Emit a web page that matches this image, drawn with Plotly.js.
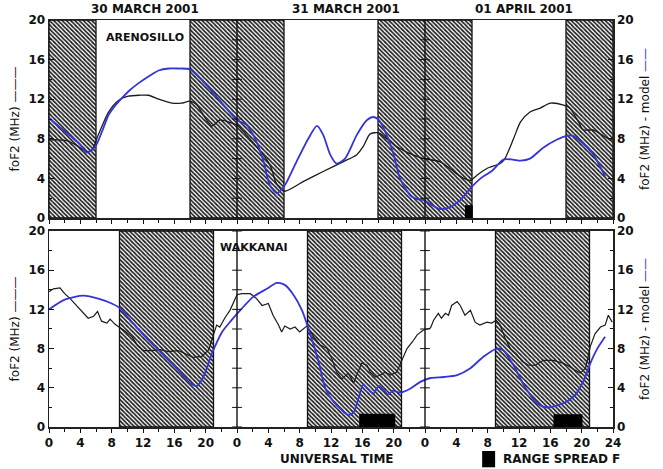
<!DOCTYPE html>
<html><head><meta charset="utf-8">
<script src="https://cdn.plot.ly/plotly-3.0.1.min.js"></script>
<style>html,body{margin:0;padding:0;background:#fff}#chart{width:663px;height:469px}</style>
</head><body><div id="chart"></div>
<script>
// ---- data (hours counted from 30 March 2001 00 UT) ----
const dayTitles = ['30 MARCH 2001', '31 MARCH 2001', '01 APRIL 2001'];
const xTickVals = [0,4,8,12,16,20,24,28,32,36,40,44,48,52,56,60,64,68,72];
const xTickText = ['0','4','8','12','16','20','0','4','8','12','16','20','0','4','8','12','16','20','24'];
const yTickVals = [0,4,8,12,16,20];

// Arenosillo observed foF2
const areObsHour = [0,1.2,2.4,3.8,4.8,5.5,6.3,7.6,8.9,10.1,11.5,12.7,14.0,15.7,16.9,18.0,18.9,19.7,20.8,21.8,22.9,24.0,25.2,26.5,27.8,28.4,28.9,29.5,30.1,32.5,35.0,37.6,39.3,40.1,41.0,42.1,43.1,44.4,46.1,47.8,49.9,51.2,52.5,53.8,54.6,55.9,57.6,58.2,59.3,60.2,61.4,62.7,64.0,65.7,66.5,67.6,68.2,69.5,70.6,71.6,72];
const areObsFoF2 = [7.9,7.9,7.8,7.2,6.7,6.9,8.4,10.7,11.9,12.3,12.4,12.4,12.0,11.6,11.6,11.8,11.4,10.4,9.3,9.9,9.7,9.4,8.4,7.2,5.9,5.0,3.7,3.0,2.7,3.7,4.7,5.7,6.4,7.2,8.5,8.6,8.0,7.2,6.5,6.0,5.7,5.0,4.2,3.8,4.3,5.0,5.5,6.0,8.0,9.7,10.7,11.1,11.6,11.4,11.1,9.7,8.9,8.9,8.4,7.9,7.9];
// Arenosillo model foF2
const areModHour = [0,2.4,4.0,4.8,5.9,6.8,7.6,8.5,9.3,10.3,11.4,12.7,14.0,15.3,16.5,18.0,20.8,24.0,25.2,26.5,27.4,28.2,29.1,30.1,31.6,33.1,34.2,35.0,35.9,36.7,37.8,39.3,40.6,41.4,42.1,43.1,44.0,44.8,46.1,47.0,47.8,48.7,49.9,51.2,52.5,53.8,55.1,56.6,58.0,59.2,60.2,61.4,63.1,64.8,66.1,66.9,68.2,69.5,71.0];
const areModFoF2 = [10.1,8.5,7.4,6.6,7.2,8.8,10.4,11.4,12.1,12.9,13.6,14.3,14.9,15.1,15.1,15.0,12.8,9.9,9.4,7.7,5.7,3.3,2.5,3.3,5.7,8.0,9.3,8.4,6.4,5.5,6.0,8.4,9.9,10.2,9.9,8.4,6.4,4.0,2.3,1.9,1.8,1.4,0.9,1.1,1.8,3.0,4.0,4.8,5.9,5.9,5.8,6.0,7.1,7.9,8.3,8.3,7.5,6.4,4.2];

// Wakkanai observed foF2
const wakObsHour = [0,0.55,1.4,2.0,2.7,3.5,4.4,5.0,5.7,6.2,6.7,7.4,7.8,8.4,9.1,9.7,10.6,11.4,12.1,13.1,14.2,15.2,16.5,17.4,18.4,19.5,20.4,21.0,21.4,21.8,22.5,23.1,23.5,24.0,24.6,25.7,26.5,27.2,28.0,28.6,29.3,29.7,30.1,30.8,31.4,32.0,32.9,33.8,34.6,35.5,36.1,36.7,37.4,38.2,38.9,39.3,39.9,40.6,41.0,41.7,42.3,42.9,43.6,44.4,45.1,45.7,46.4,47.0,47.8,48.7,49.1,49.7,50.1,50.6,51.0,51.4,52.1,52.5,53.1,53.8,54.4,55.0,55.9,56.5,57.1,57.6,58.2,58.9,59.7,60.4,61.2,62.1,63.1,64.4,65.7,66.8,67.8,68.5,69.1,69.7,70.4,71.0,71.4,71.9];
const wakObsFoF2 = [13.8,14.1,14.2,13.6,13.1,12.4,11.6,11.1,11.3,11.8,10.8,10.6,11.0,10.5,10.1,9.8,9.2,8.2,7.8,7.8,7.9,7.7,7.8,7.5,7.1,7.2,7.9,9.4,10.4,10.2,11.2,11.9,12.6,13.5,13.6,13.6,13.1,12.4,12.6,11.4,10.4,9.7,10.3,10.0,10.2,9.7,10.3,9.2,8.4,8.0,7.0,5.6,4.9,5.5,4.5,5.3,6.5,6.3,5.6,5.1,5.3,5.6,5.3,5.6,6.8,8.0,8.7,9.4,9.9,10.1,10.9,11.6,11.1,11.6,11.4,12.4,12.8,12.4,11.4,11.9,10.7,10.4,10.7,10.6,10.9,10.4,9.1,8.0,7.4,6.7,6.3,6.3,6.8,6.8,6.5,6.0,5.5,6.0,8.2,9.5,10.2,10.4,11.4,10.7];
// Wakkanai model foF2
const wakModHour = [0,2.0,4.4,6.3,8.0,9.1,10.6,12.3,14.4,16.5,18.0,18.9,19.7,20.8,22.1,23.3,24.4,26.1,27.8,29.1,30.1,31.2,32.3,33.3,34.4,35.3,36.3,37.4,38.2,38.9,39.5,40.1,40.8,41.4,42.1,42.7,43.3,43.9,44.8,46.1,47.4,48.7,50.4,52.1,53.8,55.5,57.2,58.0,59.3,60.6,62.1,63.4,64.9,66.1,67.2,68.3,69.1,70.0,71.0];
const wakModFoF2 = [12.0,13.0,13.4,13.1,12.6,12.1,10.7,9.2,7.5,5.8,4.5,4.2,5.1,7.5,9.7,10.9,11.9,13.3,14.1,14.7,14.5,13.5,11.9,9.6,6.7,3.9,2.6,1.7,1.2,1.5,2.9,4.3,3.8,3.4,4.2,3.8,3.3,3.7,3.5,3.9,4.6,5.0,5.1,5.3,6.0,7.2,8.0,7.8,6.3,4.3,2.6,2.0,2.2,2.6,3.3,4.8,6.5,8.0,9.2];

// night-time intervals [start, end] (hours)
const areNights = [[0,6],[18,30],[42,54],[66,72]];
const wakNights = [[9,21],[33,45],[57,69]];
// range spread F occurrence [start, end, height]
const areSpreadF = [[53.1,54.1,1.3]];
const wakSpreadF = [[39.6,44.2,1.35],[64.4,68.1,1.3]];

// ---- styling ----
const BLUE = '#3434d8';
const BLACK = '#1c1c1c';
const FONT = 'DejaVu Sans, Arial, sans-serif';

function nightBars(iv, xa, ya) {
  return {type:'bar', xaxis:xa, yaxis:ya, hoverinfo:'skip', showlegend:false,
    x: iv.map(d => (d[0]+d[1])/2), width: iv.map(d => d[1]-d[0]),
    y: iv.map(() => 20), base: 0,
    marker:{color:'#ffffff', line:{color:'#111', width:1.3},
      pattern:{shape:'\\', fgcolor:'#1a1a1a', bgcolor:'#ffffff', size:3, solidity:0.55}}};
}
function spreadBars(iv, xa, ya) {
  return {type:'bar', xaxis:xa, yaxis:ya, hoverinfo:'skip', showlegend:false,
    x: iv.map(d => (d[0]+d[1])/2), width: iv.map(d => d[1]-d[0]),
    y: iv.map(d => d[2]), base: 0,
    marker:{color:'#000', line:{color:'#000', width:0}}};
}
function curve(x, y, xa, ya, color, w, shape) {
  return {type:'scatter', mode:'lines', x:x, y:y, xaxis:xa, yaxis:ya, hoverinfo:'skip', showlegend:false,
    line:{color:color, width:w, shape:shape, smoothing:0.7}};
}
const dividerTickY = [0,2,4,6,8,10,12,14,16,18,20];
function dividerTicks(xa, ya) {
  const xs = [], ys = [];
  [24,48].forEach(d => dividerTickY.forEach(v => { xs.push(d); ys.push(v); }));
  return {type:'scatter', mode:'markers', x:xs, y:ys, xaxis:xa, yaxis:ya, hoverinfo:'skip', showlegend:false,
    marker:{symbol:'line-ew', size:7, line:{color:'#111', width:1}}};
}

const traces = [
  nightBars(areNights, 'x2', 'y2'),
  spreadBars(areSpreadF, 'x2', 'y2'),
  nightBars(wakNights, 'x', 'y'),
  spreadBars(wakSpreadF, 'x', 'y'),
  curve(areObsHour, areObsFoF2, 'x2', 'y2', BLACK, 1.3, 'spline'),
  curve(areModHour, areModFoF2, 'x2', 'y2', BLUE, 1.8, 'spline'),
  curve(wakObsHour, wakObsFoF2, 'x', 'y', BLACK, 1.2, 'linear'),
  curve(wakModHour, wakModFoF2, 'x', 'y', BLUE, 1.8, 'spline'),
  dividerTicks('x2', 'y4'),
  dividerTicks('x', 'y3')
];

const tickFont = {family:FONT, size:12, weight:'bold', color:'#111'};
const titleFont = {family:FONT, size:12, color:'#111'};
const yCommon = {range:[0,20], tickvals:yTickVals, ticks:'inside', ticklen:5, tickwidth:1, tickcolor:'#111',
  minor:{dtick:2, ticks:'inside', ticklen:3, tickcolor:'#111'},
  showline:true, linecolor:'#222', linewidth:1.5, showgrid:false, zeroline:false, tickfont:tickFont, fixedrange:true};
const leftTitle = {text:'foF2 (MHz) ———', font:titleFont, standoff:6};
const rightTitle = {text:'foF2 (MHz) - model <span style="color:' + BLUE + '">——</span>', font:titleFont, standoff:8};
const xCommon = {range:[0,72], tickvals:xTickVals, ticktext:xTickText, ticks:'outside', ticklen:4, tickcolor:'#111',
  minor:{dtick:2, ticks:'outside', ticklen:3, tickcolor:'#111'},
  showline:true, mirror:true, linecolor:'#222', linewidth:1.5, showgrid:false, zeroline:false, tickfont:tickFont, fixedrange:true};

const dividers = [];
[24,48].forEach(d => {
  dividers.push({type:'line', xref:'x', yref:'y domain', x0:d, x1:d, y0:0, y1:1, line:{color:'#111', width:1.4}});
  dividers.push({type:'line', xref:'x2', yref:'y2 domain', x0:d, x1:d, y0:0, y1:1, line:{color:'#111', width:1.4}});
});
// legend swatch for range spread F
dividers.push({type:'rect', xref:'paper', yref:'paper', x0:0.768, x1:0.791, y0:-0.099, y1:-0.059, fillcolor:'#000', line:{width:0}});

const annFont = {family:FONT, size:12, weight:'bold', color:'#111'};
const annotations = [
  {text:dayTitles[0], x:0.170, y:1.027, xref:'paper', yref:'paper', showarrow:false, font:annFont, xanchor:'center', yanchor:'middle'},
  {text:dayTitles[1], x:0.526, y:1.027, xref:'paper', yref:'paper', showarrow:false, font:annFont, xanchor:'center', yanchor:'middle'},
  {text:dayTitles[2], x:0.842, y:1.027, xref:'paper', yref:'paper', showarrow:false, font:annFont, xanchor:'center', yanchor:'middle'},
  {text:'ARENOSILLO', x:0.170, y:0.956, xref:'paper', yref:'paper', showarrow:false, font:{family:FONT, size:11, weight:'bold', color:'#111'}, xanchor:'center', yanchor:'middle'},
  {text:'WAKKANAI', x:0.3635, y:0.442, xref:'paper', yref:'paper', showarrow:false, font:{family:FONT, size:11, weight:'bold', color:'#111'}, xanchor:'center', yanchor:'middle'},
  {text:'UNIVERSAL TIME', x:0.5106, y:-0.079, xref:'paper', yref:'paper', showarrow:false, font:annFont, xanchor:'center', yanchor:'middle'},
  {text:'RANGE SPREAD F', x:0.802, y:-0.079, xref:'paper', yref:'paper', showarrow:false, font:annFont, xanchor:'left', yanchor:'middle'}
];

const layout = {
  width:663, height:469, margin:{l:49, r:50, t:20, b:42},
  paper_bgcolor:'#fff', plot_bgcolor:'#fff', barmode:'overlay', showlegend:false,
  xaxis: Object.assign({}, xCommon, {anchor:'y'}),
  xaxis2: Object.assign({}, xCommon, {anchor:'y2', matches:'x', showticklabels:false}),
  yaxis: Object.assign({}, yCommon, {domain:[0,0.4816], anchor:'x', title:leftTitle}),
  yaxis2: Object.assign({}, yCommon, {domain:[0.5135,1], anchor:'x2', title:leftTitle}),
  yaxis3: Object.assign({}, yCommon, {overlaying:'y', side:'right', anchor:'x', title:rightTitle}),
  yaxis4: Object.assign({}, yCommon, {overlaying:'y2', side:'right', anchor:'x2', title:rightTitle}),
  shapes: dividers,
  annotations: annotations
};

Plotly.newPlot('chart', traces, layout, {staticPlot:true, displayModeBar:false});
</script>
</body></html>
